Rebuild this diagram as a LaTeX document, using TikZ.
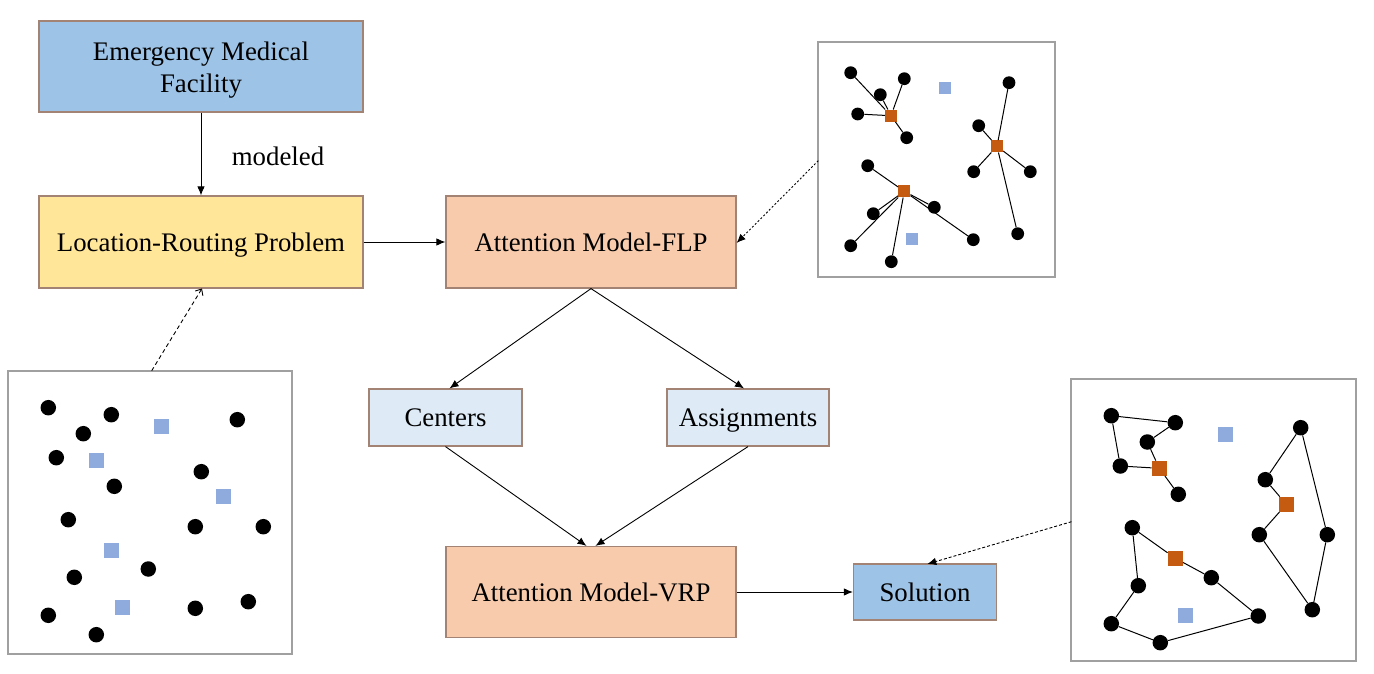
\documentclass[tikz,border=0pt]{standalone}
\usepackage{fontspec}
\setmainfont{Liberation Serif}
\usetikzlibrary{arrows.meta}
\definecolor{bblue}{HTML}{9DC3E6}
\definecolor{byellow}{HTML}{FFE699}
\definecolor{borange}{HTML}{F8CBAD}
\definecolor{blight}{HTML}{DEEBF7}
\definecolor{bborder}{HTML}{A38474}
\definecolor{pframe}{HTML}{A0A0A0}
\definecolor{sqblue}{HTML}{8FAADC}
\definecolor{sqorange}{HTML}{C55A11}
\newcommand\tmainfont{\fontsize{26.8}{32}\selectfont}
\tikzset{
  box/.style={draw=bborder, line width=1.2pt, font=\tmainfont, align=center, inner sep=0pt},
  oneline/.style={text height=18.6pt, text depth=0pt},
  arr/.style={-{Latex[length=9pt,width=7.5pt]}, line width=0.9pt},
  panel/.style={draw=pframe, line width=1.6pt, fill=white},
  dotL/.style={circle, fill=black, inner sep=0pt, minimum size=15.5pt},
  dotS/.style={circle, fill=black, inner sep=0pt, minimum size=12.8pt},
  sqB/.style={rectangle, fill=sqblue, inner sep=0pt, minimum size=15pt},
  sqO/.style={rectangle, fill=sqorange, inner sep=0pt, minimum size=15pt},
  sqBs/.style={rectangle, fill=sqblue, inner sep=0pt, minimum size=12pt},
  sqOs/.style={rectangle, fill=sqorange, inner sep=0pt, minimum size=12pt},
  link/.style={line width=1pt},
}
\begin{document}
\begin{tikzpicture}[x=1pt,y=-1pt]
\useasboundingbox (0,0) rectangle (1374,674);
% main boxes
\node[box, fill=bblue, minimum width=324pt, minimum height=91pt] (emf) at (201,66.5) {};
\node[font=\tmainfont, align=center, inner sep=0pt] (emft) at ([yshift=-3.5pt]emf.center) {Emergency Medical\\Facility};
\node[box, oneline, fill=byellow, minimum width=324pt, minimum height=92pt] (lrp) at (201,242) {Location-Routing Problem};
\node[box, oneline, fill=borange, minimum width=290pt, minimum height=92pt] (flp) at (591,242) {Attention Model-FLP};
\node[box, oneline, fill=blight, minimum width=153pt, minimum height=57pt] (cen) at (445.5,417.5) {Centers};
\node[box, oneline, fill=blight, minimum width=162pt, minimum height=57pt] (asg) at (748,417.5) {Assignments};
\node[box, oneline, fill=borange, minimum width=290pt, minimum height=91pt] (vrp) at (591,592) {Attention Model-VRP};
\node[box, oneline, fill=bblue, minimum width=143pt, minimum height=56pt] (sol) at (925,592) {Solution};
\node[font=\tmainfont] (lab) at (278,156) {modeled};

% panels
\node[panel, minimum width=237pt, minimum height=235pt, inner sep=0pt] (ptr) at (936.5,159.5) {};
\node[panel, minimum width=284pt, minimum height=283pt, inner sep=0pt] (pbl) at (150,512.5) {};
\node[panel, minimum width=285pt, minimum height=282pt, inner sep=0pt] (pbr) at (1213.5,520) {};

% main connectors
\draw[arr] (emf.south) -- (lrp.north);
\draw[arr] (lrp.east) -- (flp.west);
\draw[arr] (flp.south) -- ([xshift=4pt]cen.north);
\draw[arr] (flp.south) -- ([xshift=-4pt]asg.north);
\draw[arr] (cen.south) -- ([xshift=-4.5pt]vrp.north);
\draw[arr] (asg.south) -- ([xshift=4.5pt]vrp.north);
\draw[arr] (vrp.east) -- (sol.west);
\coordinate (c1) at (151.7,370.7);
\coordinate (c1e) at (202,288.5);
\draw[-{Straight Barb[length=5pt,width=9pt]}, line width=0.9pt, dash pattern=on 4pt off 3pt] (c1) -- (c1e);
\coordinate (c2) at (818.3,160.7);
\draw[-{Latex[length=9pt,width=7.5pt]}, line width=0.9pt, dash pattern=on 2pt off 2pt] (c2) -- ([yshift=-1pt]flp.east);
\coordinate (c3) at (1071.5,521.7);
\coordinate (c3e) at (927.3,564);
\draw[-{Latex[length=9pt,width=7.5pt]}, line width=0.9pt, dash pattern=on 3pt off 2pt] (c3) -- (c3e);

% top-right panel
\node[dotS] (t1) at (850.7,72.7) {};
\node[dotS] (t2) at (904.3,78.7) {};
\node[dotS] (t3) at (880.3,94.7) {};
\node[dotS] (t4) at (857.7,114) {};
\node[dotS] (t5) at (906.7,137.7) {};
\node[dotS] (t6) at (1009,82.7) {};
\node[dotS] (t7) at (978.7,125.7) {};
\node[dotS] (t8) at (973.7,171.7) {};
\node[dotS] (t9) at (1030.3,171.7) {};
\node[dotS] (t10) at (1017.7,233.7) {};
\node[dotS] (t11) at (867.7,165.7) {};
\node[dotS] (t12) at (934.3,207.3) {};
\node[dotS] (t13) at (873.3,213.7) {};
\node[dotS] (t14) at (850.7,245.7) {};
\node[dotS] (t15) at (891.3,261.7) {};
\node[dotS] (t16) at (973.3,239.7) {};
\node[sqBs] (tb1) at (945.3,88.3) {};
\node[sqBs] (tb2) at (912.3,238.7) {};
\node[sqOs] (to1) at (891,115.7) {};
\node[sqOs] (to2) at (997,146.3) {};
\node[sqOs] (to3) at (904.3,191.3) {};
\foreach \d in {t1,t2,t3,t4,t5} \draw[link] (to1) -- (\d);
\foreach \d in {t6,t7,t8,t9,t10} \draw[link] (to2) -- (\d);
\foreach \d in {t11,t12,t13,t14,t15,t16} \draw[link] (to3) -- (\d);

% bottom-left panel
\node[dotL] (l1) at (48.3,407.7) {};
\node[dotL] (l2) at (111.3,414.7) {};
\node[dotL] (l3) at (83.3,433.7) {};
\node[dotL] (l4) at (56.3,457.7) {};
\node[dotL] (l5) at (114.3,486.3) {};
\node[dotL] (l6) at (237.3,419.7) {};
\node[dotL] (l7) at (201.3,471.7) {};
\node[dotL] (l8) at (68.3,519.7) {};
\node[dotL] (l9) at (195.3,526.7) {};
\node[dotL] (l10) at (263.3,526.7) {};
\node[dotL] (l11) at (148.3,569) {};
\node[dotL] (l12) at (74.3,577.3) {};
\node[dotL] (l13) at (48.3,615.3) {};
\node[dotL] (l14) at (96.3,634.7) {};
\node[dotL] (l15) at (195.3,608.3) {};
\node[dotL] (l16) at (248.3,601.7) {};
\node[sqB] (lb1) at (161.3,426.3) {};
\node[sqB] (lb2) at (96.3,460) {};
\node[sqB] (lb3) at (223.3,496.3) {};
\node[sqB] (lb4) at (111.3,550.3) {};
\node[sqB] (lb5) at (122,607.3) {};

% bottom-right panel
\node[dotL] (rA) at (1111.3,415.7) {};
\node[dotL] (rB) at (1175.3,422.7) {};
\node[dotL] (rC) at (1147.3,442) {};
\node[dotL] (rD) at (1120.3,466) {};
\node[dotL] (rE) at (1178.3,494.3) {};
\node[dotL] (rF) at (1300.7,427.7) {};
\node[dotL] (rG) at (1265.3,479.7) {};
\node[dotL] (rH) at (1259.3,534.7) {};
\node[dotL] (rI) at (1327.3,534.7) {};
\node[dotL] (rJ) at (1312.3,609.7) {};
\node[dotL] (rK) at (1132.3,527.7) {};
\node[dotL] (rL) at (1211.3,577.7) {};
\node[dotL] (rM) at (1138.3,585.7) {};
\node[dotL] (rN) at (1111.3,623.7) {};
\node[dotL] (rO) at (1160.3,642.7) {};
\node[dotL] (rP) at (1258.3,616) {};
\node[sqB] (rb1) at (1225,434.3) {};
\node[sqB] (rb2) at (1185.3,615.3) {};
\node[sqO] (ro1) at (1159.3,468.3) {};
\node[sqO] (ro2) at (1286.3,504.3) {};
\node[sqO] (ro3) at (1175.3,558.3) {};
\draw[link] (ro1) -- (rC) -- (rB) -- (rA) -- (rD) -- (ro1) -- (rE);
\draw[link] (ro2) -- (rG) -- (rF) -- (rI) -- (rJ) -- (rH) -- (ro2);
\draw[link] (ro3) -- (rK) -- (rM) -- (rN) -- (rO) -- (rP) -- (rL) -- (ro3);
\end{tikzpicture}
\end{document}
